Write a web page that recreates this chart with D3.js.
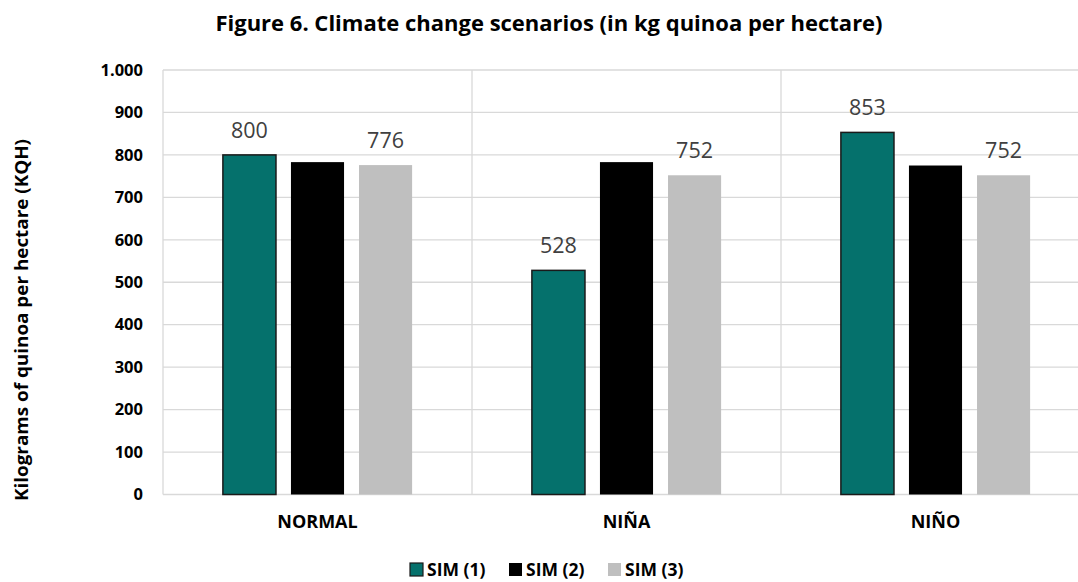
<!DOCTYPE html>
<html>
<head>
<meta charset="utf-8">
<script src="https://cdn.jsdelivr.net/npm/d3@7"></script>
<style>
  body { margin: 0; background: #fff; }
  text { font-family: "Open Sans", Lato, sans-serif; }
</style>
</head>
<body>
<div class="chart"></div>
<script>
// chart data
var categories = ["NORMAL", "NIÑA", "NIÑO"];
var seriesNames = ["SIM (1)", "SIM (2)", "SIM (3)"];
var sim1 = [800, 528, 853];
var sim2 = [783, 783, 775];
var sim3 = [776, 752, 752];
var yTicks = [0, 100, 200, 300, 400, 500, 600, 700, 800, 900, 1000];
var colors = ["#05716c", "#000000", "#bfbfbf"];
// which series carry a value label
var showLabel = [true, false, true];

var svgWidth = 1078;
var svgHeight = 582;

var svg = d3.select(".chart")
  .append("svg")
    .attr("width", svgWidth)
    .attr("height", svgHeight);

// plot area
var plotLeft = 163, plotRight = 1090, plotTop = 70, plotBottom = 494.5;

var x = d3.scaleBand().domain(categories).range([plotLeft, plotRight]).padding(0);
var xSub = d3.scaleBand().domain(d3.range(3)).range([0, x.bandwidth()])
  .paddingInner(0.22).paddingOuter(0.88);
var y = d3.scaleLinear().domain([0, 1000]).range([plotBottom, plotTop]);

// gridlines
svg.append("g")
  .selectAll("line")
  .data(yTicks)
  .enter().append("line")
    .attr("x1", plotLeft)
    .attr("x2", plotRight)
    .attr("y1", function(d) { return y(d); })
    .attr("y2", function(d) { return y(d); })
    .attr("stroke", "#d9d9d9")
    .attr("stroke-width", 1.3);

// category separators
svg.append("g")
  .selectAll("line")
  .data(categories)
  .enter().append("line")
    .attr("x1", function(d) { return x(d); })
    .attr("x2", function(d) { return x(d); })
    .attr("y1", plotTop)
    .attr("y2", plotBottom)
    .attr("stroke", "#d9d9d9")
    .attr("stroke-width", 1.3);

// y tick labels
var yAxis = d3.axisLeft(y).tickValues(yTicks).tickSize(0).tickPadding(0)
  .tickFormat(function(d) { return d === 1000 ? "1.000" : d; });
var yg = svg.append("g")
  .attr("transform", "translate(143,0)")
  .call(yAxis);
yg.select(".domain").remove();
yg.selectAll("text")
  .attr("font-family", "'Open Sans', sans-serif")
  .attr("font-size", 16.5)
  .attr("font-weight", "bold")
  .attr("fill", "#000");

// bars
var rows = categories.map(function(c, i) {
  return { cat: c, vals: [sim1[i], sim2[i], sim3[i]] };
});

var groups = svg.append("g")
  .selectAll("g")
  .data(rows)
  .enter().append("g")
    .attr("transform", function(d) { return "translate(" + x(d.cat) + ",0)"; });

groups.selectAll("rect")
  .data(function(d) { return d.vals.map(function(v, j) { return { v: v, j: j }; }); })
  .enter().append("rect")
    .attr("x", function(d) { return xSub(d.j); })
    .attr("y", function(d) { return y(d.v); })
    .attr("width", xSub.bandwidth())
    .attr("height", function(d) { return y(0) - y(d.v); })
    .attr("fill", function(d) { return colors[d.j]; })
    .attr("stroke", function(d) { return d.j === 0 ? "#1a1a1a" : "none"; })
    .attr("stroke-width", 1.5);

groups.selectAll("text.val")
  .data(function(d) { return d.vals.map(function(v, j) { return { v: v, j: j }; }).filter(function(d) { return showLabel[d.j]; }); })
  .enter().append("text")
    .attr("class", "val")
    .attr("x", function(d) { return xSub(d.j) + xSub.bandwidth() / 2; })
    .attr("y", function(d) { return y(d.v) - 17; })
    .attr("text-anchor", "middle")
    .attr("font-size", 21.5)
    .attr("fill", "#404040")
    .text(function(d) { return d.v; });

// category labels
svg.append("g")
  .selectAll("text")
  .data(categories)
  .enter().append("text")
    .attr("x", function(d) { return x(d) + x.bandwidth() / 2; })
    .attr("y", 528)
    .attr("text-anchor", "middle")
    .attr("font-size", 18)
    .attr("font-weight", "bold")
    .text(function(d) { return d; });

// title
svg.append("text")
  .attr("x", 549)
  .attr("y", 31)
  .attr("text-anchor", "middle")
  .attr("font-size", 22)
  .attr("font-weight", "bold")
  .text("Figure 6. Climate change scenarios (in kg quinoa per hectare)");

// y axis title
svg.append("text")
  .attr("transform", "translate(28,320) rotate(-90)")
  .attr("text-anchor", "middle")
  .attr("font-size", 17)
  .attr("font-weight", "bold")
  .attr("textLength", 362)
  .attr("lengthAdjust", "spacingAndGlyphs")
  .text("Kilograms of quinoa per hectare (KQH)");

// legend
var legendX = [410, 509, 608];
var legend = svg.append("g")
  .selectAll("g")
  .data(seriesNames)
  .enter().append("g")
    .attr("transform", function(d, i) { return "translate(" + legendX[i] + ",563)"; });

legend.append("rect")
  .attr("width", 13)
  .attr("height", 13)
  .attr("fill", function(d, i) { return colors[i]; })
  .attr("stroke", function(d, i) { return i === 0 ? "#1a1a1a" : "none"; })
  .attr("stroke-width", 1.2);

legend.append("text")
  .attr("x", 17)
  .attr("y", 13)
  .attr("font-size", 17.5)
  .attr("font-weight", "bold")
  .text(function(d) { return d; });
</script>
</body>
</html>
